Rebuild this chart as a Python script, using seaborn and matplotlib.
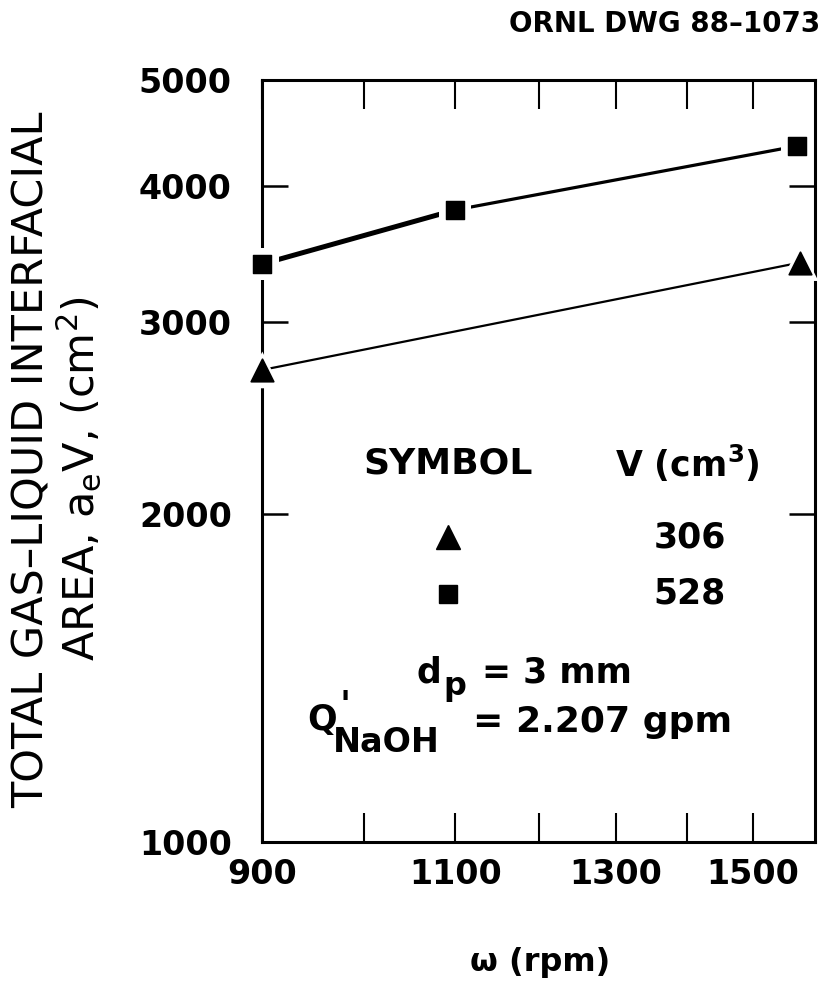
import matplotlib
matplotlib.use("Agg")
import matplotlib.pyplot as plt
import seaborn as sns
import pandas as pd

# ---- data ----
tri_x = [900, 1575]
tri_y = [2710, 3400]
sq_x = [900, 1100, 1570]
sq_y = [3390, 3800, 4350]
x_ticks = [900, 1000, 1100, 1200, 1300, 1400, 1500]
x_ticklabels = ["900", "", "1100", "", "1300", "", "1500"]
y_ticks = [1000, 2000, 3000, 4000, 5000]
y_ticklabels = ["1000", "2000", "3000", "4000", "5000"]
legend_labels = ["306", "528"]

sns.set_style("ticks")
plt.rcParams["font.family"] = ["DejaVu Sans"]
plt.rcParams["mathtext.fontset"] = "dejavusans"
for k in ["text.color", "axes.labelcolor", "xtick.color", "ytick.color", "axes.edgecolor"]:
    plt.rcParams[k] = "black"

fig = plt.figure(figsize=(8.25, 9.89), dpi=100)
ax = fig.add_axes([0.318, 0.149, 0.670, 0.770])

tri = pd.DataFrame({"x": tri_x, "y": tri_y})
sq = pd.DataFrame({"x": sq_x, "y": sq_y})

# lines
sns.lineplot(data=tri, x="x", y="y", ax=ax, color="black", lw=1.6, zorder=2)
sns.lineplot(data=sq, x="x", y="y", ax=ax, color="black", lw=2.3, zorder=2)
sns.lineplot(data=sq.iloc[:2], x="x", y="y", ax=ax, color="black", lw=3.6, zorder=2)

# white halos (gap between line and marker), then markers
sns.scatterplot(data=tri, x="x", y="y", ax=ax, marker="^", s=700, color="white",
                edgecolor="none", zorder=5, clip_on=False)
sns.scatterplot(data=sq, x="x", y="y", ax=ax, marker="s", s=550, color="white",
                edgecolor="none", zorder=5, clip_on=False)
sns.scatterplot(data=tri, x="x", y="y", ax=ax, marker="^", s=260, color="black",
                edgecolor="black", zorder=6, clip_on=False)
sns.scatterplot(data=sq, x="x", y="y", ax=ax, marker="s", s=170, color="black",
                edgecolor="black", zorder=6, clip_on=False)

ax.set_xscale("log")
ax.set_yscale("log")
ax.set_xlim(900, 1600)
ax.set_ylim(1000, 5000)
ax.set_xticks(x_ticks)
ax.set_xticklabels(x_ticklabels)
ax.set_yticks(y_ticks)
ax.set_yticklabels(y_ticklabels)
ax.minorticks_off()

for s in ax.spines.values():
    s.set_visible(True)
    s.set_linewidth(2.2)
    s.set_color("black")

ax.tick_params(axis="x", which="major", direction="in", length=21, width=1.5,
               top=True, bottom=True, pad=12, labelsize=24)
ax.tick_params(axis="y", which="major", direction="in", length=19, width=1.8,
               left=True, right=True, pad=22, labelsize=24)
for lab in ax.get_xticklabels() + ax.get_yticklabels():
    lab.set_fontweight("bold")

ax.set_xlabel("")
ax.set_ylabel("")

# y-axis title (two lines)
fig.text(0.038, 0.535, "TOTAL GAS\u2013LIQUID INTERFACIAL",
         rotation=90, ha="center", va="center", fontsize=31)
fig.text(0.096, 0.516, "AREA, a$_{\\mathregular{e}}$V, (cm$^{\\mathregular{2}}$)",
         rotation=90, ha="center", va="center", fontsize=31)

fig.text(0.655, 0.027, "\u03c9 (rpm)", ha="center", va="center", fontsize=23, fontweight="bold")
fig.text(0.994, 0.976, "ORNL DWG 88\u20131073", ha="right", va="center", fontsize=20, fontweight="bold")

# legend block
fig.text(0.44, 0.531, "SYMBOL", ha="left", va="center", fontsize=26, fontweight="bold")
fig.text(0.745, 0.531, "V (cm$^{\\mathregular{3}}$)", ha="left", va="center",
         fontsize=25, fontweight="bold")
fig.text(0.792, 0.457, legend_labels[0], ha="left", va="center", fontsize=25, fontweight="bold")
fig.text(0.792, 0.400, legend_labels[1], ha="left", va="center", fontsize=25, fontweight="bold")
ax.plot([0.543], [0.457], marker="^", ms=17, color="black", transform=fig.transFigure,
        ls="none", clip_on=False)
ax.plot([0.543], [0.399], marker="s", ms=12.5, color="black", transform=fig.transFigure,
        ls="none", clip_on=False)

fig.text(0.505, 0.320, "d", ha="left", va="center", fontsize=25, fontweight="bold")
fig.text(0.537, 0.306, "p", ha="left", va="center", fontsize=23, fontweight="bold")
fig.text(0.584, 0.320, "= 3 mm", ha="left", va="center", fontsize=25, fontweight="bold")

fig.text(0.372, 0.272, "Q", ha="left", va="center", fontsize=25, fontweight="bold")
fig.text(0.412, 0.286, "'", ha="left", va="center", fontsize=26, fontweight="bold")
fig.text(0.404, 0.249, "NaOH", ha="left", va="center", fontsize=24, fontweight="bold")
fig.text(0.573, 0.270, "= 2.207 gpm", ha="left", va="center", fontsize=26, fontweight="bold")

fig.savefig("out.png", dpi=100, facecolor="white")
